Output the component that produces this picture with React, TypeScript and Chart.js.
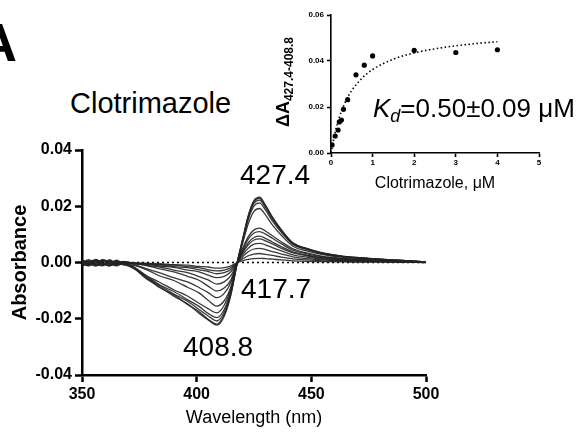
import React, { useEffect, useRef } from "react";
import { Chart, registerables } from "chart.js";

Chart.register(...registerables);

const FONT = "Arial, 'Liberation Sans', Helvetica, sans-serif";

// ---------- main panel: difference spectra ----------
const WAVELENGTHS = [350, 353, 356, 359, 362, 365, 368, 372, 378, 384, 390, 396, 401, 405, 408.8, 412, 415, 417.7, 420, 422.5, 425, 427.4, 430, 433, 437, 442, 448, 455, 464, 475, 488, 500];

const SPEC_4_0 = [0.0006, -0.0009, 0.0004, -0.0011, 0.0003, -0.0006, -0.0002, -0.0016, -0.0058, -0.0087, -0.0120, -0.0147, -0.0180, -0.0204, -0.0223, -0.0191, -0.0112, 0.0001, 0.0081, 0.0167, 0.0220, 0.0232, 0.0204, 0.0162, 0.0116, 0.0070, 0.0050, 0.0034, 0.0022, 0.0015, 0.0008, 0.0002];
const SPEC_3_0 = [-0.0008, 0.0005, -0.0010, 0.0007, -0.0004, 0.0002, -0.0007, -0.0019, -0.0053, -0.0090, -0.0115, -0.0149, -0.0174, -0.0202, -0.0219, -0.0186, -0.0110, 0.0000, 0.0080, 0.0164, 0.0217, 0.0228, 0.0201, 0.0160, 0.0114, 0.0068, 0.0049, 0.0033, 0.0022, 0.0015, 0.0008, 0.0002];
const SPEC_2_0 = [0.0003, -0.0012, 0.0008, -0.0005, -0.0010, 0.0004, -0.0003, -0.0015, -0.0053, -0.0082, -0.0112, -0.0138, -0.0167, -0.0190, -0.0208, -0.0177, -0.0104, -0.0001, 0.0078, 0.0160, 0.0211, 0.0222, 0.0195, 0.0155, 0.0111, 0.0067, 0.0048, 0.0032, 0.0021, 0.0014, 0.0008, 0.0002];
const SPEC_1_0 = [-0.0011, 0.0002, -0.0006, 0.0009, -0.0012, -0.0001, 0.0003, -0.0017, -0.0048, -0.0080, -0.0103, -0.0132, -0.0156, -0.0181, -0.0196, -0.0167, -0.0098, 0.0000, 0.0074, 0.0153, 0.0201, 0.0212, 0.0187, 0.0148, 0.0106, 0.0064, 0.0046, 0.0031, 0.0020, 0.0014, 0.0007, 0.0002];
const SPEC_0_8 = [0.0009, -0.0004, -0.0013, 0.0002, 0.0006, -0.0011, -0.0005, -0.0013, -0.0046, -0.0071, -0.0097, -0.0119, -0.0145, -0.0164, -0.0179, -0.0152, -0.0090, 0.0000, 0.0067, 0.0138, 0.0182, 0.0192, 0.0169, 0.0134, 0.0096, 0.0058, 0.0041, 0.0028, 0.0018, 0.0012, 0.0007, 0.0002];
const SPEC_0_6 = [-0.0003, 0.0010, -0.0007, -0.0012, 0.0004, 0.0001, -0.0008, -0.0009, -0.0025, -0.0048, -0.0064, -0.0088, -0.0108, -0.0134, -0.0155, -0.0136, -0.0085, 0.0000, 0.0049, 0.0092, 0.0116, 0.0122, 0.0112, 0.0095, 0.0073, 0.0049, 0.0034, 0.0022, 0.0015, 0.0010, 0.0005, 0.0002];
const SPEC_0_4 = [0.0005, -0.0006, 0.0011, -0.0003, -0.0009, 0.0006, 0.0000, -0.0006, -0.0022, -0.0037, -0.0054, -0.0069, -0.0089, -0.0107, -0.0125, -0.0110, -0.0069, 0.0000, 0.0044, 0.0083, 0.0105, 0.0110, 0.0101, 0.0086, 0.0066, 0.0044, 0.0031, 0.0020, 0.0013, 0.0009, 0.0005, 0.0002];
const SPEC_0_3 = [-0.0014, -0.0002, 0.0004, -0.0008, 0.0010, -0.0004, -0.0006, -0.0004, -0.0011, -0.0023, -0.0033, -0.0049, -0.0063, -0.0084, -0.0101, -0.0091, -0.0061, 0.0000, 0.0038, 0.0071, 0.0089, 0.0094, 0.0086, 0.0073, 0.0056, 0.0038, 0.0026, 0.0017, 0.0011, 0.0008, 0.0004, 0.0001];
const SPEC_0_25 = [0.0002, 0.0007, -0.0009, 0.0005, -0.0006, -0.0012, 0.0002, -0.0002, -0.0010, -0.0016, -0.0027, -0.0036, -0.0050, -0.0062, -0.0077, -0.0069, -0.0046, 0.0000, 0.0034, 0.0063, 0.0080, 0.0084, 0.0077, 0.0066, 0.0050, 0.0034, 0.0024, 0.0015, 0.0010, 0.0007, 0.0004, 0.0001];
const SPEC_0_2 = [-0.0006, -0.0011, 0.0002, 0.0006, -0.0002, 0.0008, -0.0004, -0.0003, -0.0006, -0.0013, -0.0017, -0.0027, -0.0033, -0.0045, -0.0054, -0.0049, -0.0032, 0.0000, 0.0027, 0.0051, 0.0065, 0.0068, 0.0063, 0.0053, 0.0041, 0.0027, 0.0019, 0.0012, 0.0008, 0.0005, 0.0003, 0.0001];
const SPEC_0_17 = [0.0010, -0.0003, -0.0005, -0.0010, 0.0007, -0.0003, 0.0001, -0.0001, -0.0006, -0.0008, -0.0015, -0.0018, -0.0026, -0.0032, -0.0040, -0.0036, -0.0024, 0.0000, 0.0020, 0.0038, 0.0048, 0.0050, 0.0046, 0.0039, 0.0030, 0.0020, 0.0014, 0.0009, 0.0006, 0.0004, 0.0002, 0.0001];
const SPEC_0_1 = [-0.0002, 0.0004, 0.0009, -0.0004, -0.0013, 0.0003, -0.0005, -0.0002, -0.0003, -0.0008, -0.0009, -0.0015, -0.0018, -0.0026, -0.0030, -0.0027, -0.0018, 0.0000, 0.0013, 0.0024, 0.0030, 0.0032, 0.0029, 0.0025, 0.0019, 0.0013, 0.0009, 0.0006, 0.0004, 0.0003, 0.0001, 0.0000];
const SPEC_0_025 = [0.0001, -0.0007, -0.0002, 0.0010, 0.0002, -0.0008, 0.0004, -0.0001, -0.0003, -0.0004, -0.0008, -0.0009, -0.0014, -0.0016, -0.0020, -0.0018, -0.0012, 0.0000, 0.0006, 0.0011, 0.0014, 0.0015, 0.0014, 0.0012, 0.0009, 0.0006, 0.0004, 0.0003, 0.0002, 0.0001, 0.0001, 0.0000];

const SPECTRA = [SPEC_4_0, SPEC_3_0, SPEC_2_0, SPEC_1_0, SPEC_0_8, SPEC_0_6, SPEC_0_4, SPEC_0_3, SPEC_0_25, SPEC_0_2, SPEC_0_17, SPEC_0_1, SPEC_0_025];

const BASELINE_X = [350, 500];
const BASELINE_Y = [0, 0];

const MAIN_X_TICKS = [350, 400, 450, 500];
const MAIN_Y_TICKS = [-0.04, -0.02, 0, 0.02, 0.04];

// ---------- inset: titration ----------
const CONC = [0.025, 0.1, 0.17, 0.2, 0.25, 0.3, 0.4, 0.6, 0.8, 1, 2, 3, 4];
const DELTA_A = [0.0035, 0.0074, 0.0100, 0.0135, 0.0143, 0.0190, 0.0232, 0.0340, 0.0382, 0.0422, 0.0446, 0.0437, 0.0449];
const FIT_X = [0, 0.1, 0.2, 0.3, 0.4, 0.5, 0.75, 1, 1.5, 2, 2.5, 3, 3.5, 4];
const FIT_Y = [0, 0.0091, 0.0155, 0.0204, 0.0242, 0.0272, 0.0326, 0.0363, 0.0408, 0.0435, 0.0453, 0.0466, 0.0476, 0.0484];

const INSET_X_TICKS = [0, 1, 2, 3, 4, 5];
const INSET_Y_TICKS = [0, 0.02, 0.04, 0.06];

function MainChart() {
  const ref = useRef<HTMLCanvasElement | null>(null);
  useEffect(() => {
    if (!ref.current) return;
    const datasets: any[] = SPECTRA.map((s) => ({
      data: WAVELENGTHS.map((w, i) => ({ x: w, y: s[i] })),
      borderColor: "rgba(35,35,35,0.9)",
      borderWidth: 1.3,
      pointRadius: 0,
      cubicInterpolationMode: "monotone",
      fill: false,
    }));
    datasets.push({
      data: BASELINE_X.map((x, i) => ({ x, y: BASELINE_Y[i] })),
      borderColor: "#000",
      borderWidth: 1.6,
      borderDash: [2, 3],
      pointRadius: 0,
      fill: false,
    });
    const chart = new Chart(ref.current, {
      type: "line",
      data: { datasets },
      options: {
        animation: false,
        responsive: false,
        maintainAspectRatio: false,
        layout: { padding: { top: 20, right: 44, left: 0, bottom: 0 } },
        plugins: { legend: { display: false }, tooltip: { enabled: false } },
        scales: {
          x: {
            type: "linear",
            min: 350,
            max: 500,
            afterFit: (s: any) => { s.height = 58; },
            afterBuildTicks: (s: any) => { s.ticks = MAIN_X_TICKS.map((v) => ({ value: v })); },
            border: { display: true, color: "#000", width: 2.5 },
            grid: { display: true, drawOnChartArea: false, drawTicks: true, tickLength: 7, tickWidth: 2.5, color: "#000", tickColor: "#000" },
            ticks: { color: "#000", font: { family: FONT, size: 16, weight: "bold" }, padding: 3, maxRotation: 0, callback: (v: any) => String(v) },
            title: { display: true, text: "Wavelength (nm)", color: "#000", font: { family: FONT, size: 18 }, padding: { top: 0, bottom: 4 } },
          },
          y: {
            type: "linear",
            min: -0.04,
            max: 0.04,
            afterFit: (s: any) => { s.width = 82; },
            afterBuildTicks: (s: any) => { s.ticks = MAIN_Y_TICKS.map((v) => ({ value: v })); },
            border: { display: true, color: "#000", width: 2.5 },
            grid: { display: true, drawOnChartArea: false, drawTicks: true, tickLength: 7, tickWidth: 2.5, color: "#000", tickColor: "#000" },
            ticks: { color: "#000", font: { family: FONT, size: 16, weight: "bold" }, padding: 3, callback: (v: any) => Number(v).toFixed(2) },
            title: { display: true, text: "Absorbance", color: "#000", font: { family: FONT, size: 20, weight: "bold" }, padding: { top: 8, bottom: 0 } },
          },
        },
      } as any,
    });
    return () => chart.destroy();
  }, []);
  return (
    <canvas
      ref={ref}
      width={470}
      height={303}
      style={{ position: "absolute", left: 0, top: 130, width: 470, height: 303 }}
    />
  );
}

function InsetChart() {
  const ref = useRef<HTMLCanvasElement | null>(null);
  useEffect(() => {
    if (!ref.current) return;
    const chart = new Chart(ref.current, {
      type: "line",
      data: {
        datasets: [
          {
            data: CONC.map((c, i) => ({ x: c, y: DELTA_A[i] })),
            showLine: false,
            pointRadius: 2.6,
            pointBackgroundColor: "#000",
            pointBorderColor: "#000",
            pointBorderWidth: 0,
          },
          {
            data: FIT_X.map((x, i) => ({ x, y: FIT_Y[i] })),
            borderColor: "#000",
            borderWidth: 1.6,
            borderDash: [1.5, 2.5],
            pointRadius: 0,
            cubicInterpolationMode: "monotone",
            fill: false,
          },
        ] as any,
      },
      options: {
        animation: false,
        responsive: false,
        maintainAspectRatio: false,
        layout: { padding: { top: 15, right: 41, left: 0, bottom: 0 } },
        plugins: { legend: { display: false }, tooltip: { enabled: false } },
        scales: {
          x: {
            type: "linear",
            min: 0,
            max: 5,
            afterFit: (s: any) => { s.height = 47; },
            afterBuildTicks: (s: any) => { s.ticks = INSET_X_TICKS.map((v) => ({ value: v })); },
            border: { display: true, color: "#000", width: 1.6 },
            grid: { display: true, drawOnChartArea: false, drawTicks: true, tickLength: 4, tickWidth: 1.6, color: "#000", tickColor: "#000" },
            ticks: { color: "#000", font: { family: FONT, size: 8, weight: "bold" }, padding: 1, maxRotation: 0, callback: (v: any) => String(v) },
            title: { display: true, text: "Clotrimazole, μM", color: "#000", font: { family: FONT, size: 16 }, padding: { top: 0, bottom: 7 } },
          },
          y: {
            type: "linear",
            min: 0,
            max: 0.06,
            afterFit: (s: any) => { s.width = 51; },
            afterBuildTicks: (s: any) => { s.ticks = INSET_Y_TICKS.map((v) => ({ value: v })); },
            border: { display: true, color: "#000", width: 1.6 },
            grid: { display: true, drawOnChartArea: false, drawTicks: true, tickLength: 4, tickWidth: 1.6, color: "#000", tickColor: "#000" },
            ticks: { color: "#000", font: { family: FONT, size: 8, weight: "bold" }, padding: 3, callback: (v: any) => Number(v).toFixed(2) },
          },
        },
      } as any,
    });
    return () => chart.destroy();
  }, []);
  return (
    <canvas
      ref={ref}
      width={300}
      height={200}
      style={{ position: "absolute", left: 280, top: 0, width: 300, height: 200 }}
    />
  );
}

const txt = (extra: React.CSSProperties): React.CSSProperties => ({
  position: "absolute",
  fontFamily: FONT,
  lineHeight: 1,
  color: "#000",
  whiteSpace: "nowrap",
  ...extra,
});

export default function App() {
  return (
    <div style={{ position: "absolute", left: 0, top: 0, width: 580, height: 433, overflow: "hidden", background: "#fff" }}>
      <MainChart />
      <InsetChart />
      <div style={txt({ left: -22, top: 15, fontSize: 54, fontWeight: "bold" })}>A</div>
      <div style={txt({ left: 70, top: 89, fontSize: 29 })}>Clotrimazole</div>
      <div style={txt({ left: 240, top: 161, fontSize: 28 })}>427.4</div>
      <div style={txt({ left: 241, top: 275, fontSize: 28 })}>417.7</div>
      <div style={txt({ left: 183, top: 333, fontSize: 28 })}>408.8</div>
      <div style={txt({ left: 373, top: 95, fontSize: 26 })}>
        <i>K</i>
        <sub style={{ fontSize: 18, verticalAlign: "-5px" }}><i>d</i></sub>
        =0.50±0.09 μM
      </div>
      <div
        style={txt({
          left: 284,
          top: 82,
          transform: "translate(-50%, -50%) rotate(-90deg)",
          fontSize: 18,
          fontWeight: "bold",
        })}
      >
        ΔA<sub style={{ fontSize: 12, verticalAlign: "-4px" }}>427.4-408.8</sub>
      </div>
    </div>
  );
}
